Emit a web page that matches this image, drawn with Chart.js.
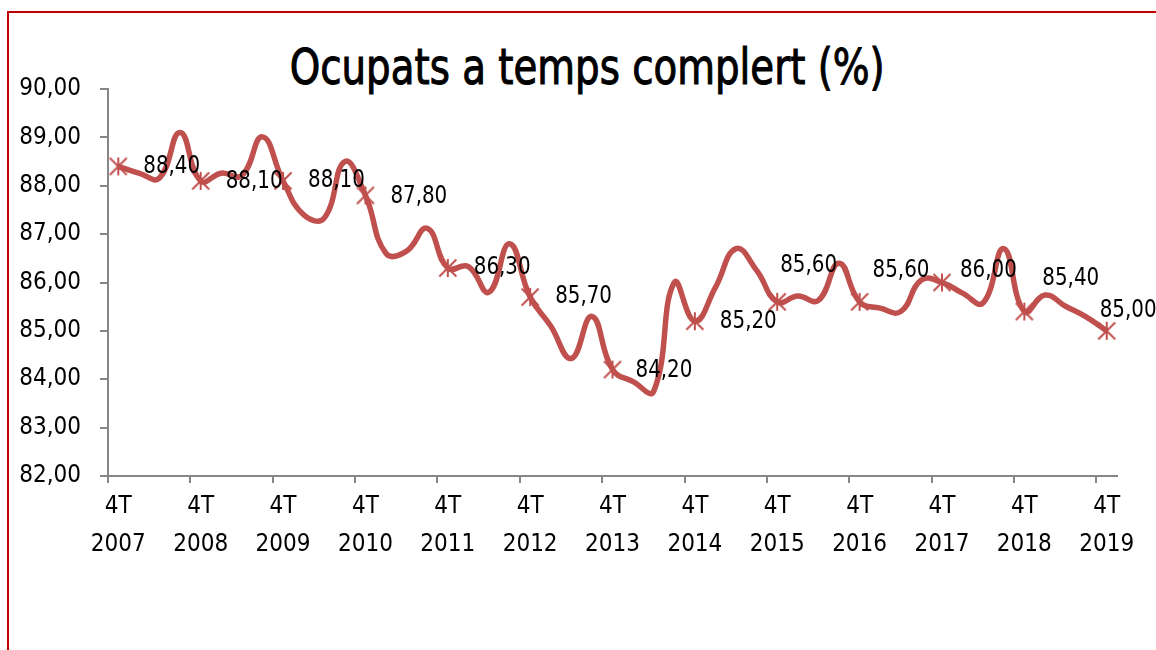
<!DOCTYPE html>
<html>
<head>
<meta charset="utf-8">
<script src="https://cdn.jsdelivr.net/npm/chart.js@4/dist/chart.umd.min.js"></script>
<style>
html,body{margin:0;padding:0;background:#fff;width:1156px;height:650px;overflow:hidden}
#frame{position:absolute;left:7px;top:11px;width:1300px;height:800px;border-left:2px solid #c00000;border-top:2px solid #c00000;box-sizing:border-box}
#title{position:absolute;left:0;width:1175px;top:40px;text-align:center;font-family:'DejaVu Sans Condensed','DejaVu Sans',sans-serif;font-size:50px;line-height:54px;color:#000;white-space:nowrap;font-weight:normal;-webkit-text-stroke:1px #000}
#title span{display:inline-block;transform-origin:50% 50%}
#wrap{position:absolute;left:0;top:0;width:1156px;height:650px}
</style>
</head>
<body>
<div id="frame"></div>
<div id="title"><span id="tt">Ocupats a temps complert (%)</span></div>
<div id="wrap"><canvas id="c" width="1156" height="650"></canvas></div>
<script>
// ---- data ----
const quarters = [
  "4T 2007",
  "1T 2008","2T 2008","3T 2008","4T 2008",
  "1T 2009","2T 2009","3T 2009","4T 2009",
  "1T 2010","2T 2010","3T 2010","4T 2010",
  "1T 2011","2T 2011","3T 2011","4T 2011",
  "1T 2012","2T 2012","3T 2012","4T 2012",
  "1T 2013","2T 2013","3T 2013","4T 2013",
  "1T 2014","2T 2014","3T 2014","4T 2014",
  "1T 2015","2T 2015","3T 2015","4T 2015",
  "1T 2016","2T 2016","3T 2016","4T 2016",
  "1T 2017","2T 2017","3T 2017","4T 2017",
  "1T 2018","2T 2018","3T 2018","4T 2018",
  "1T 2019","2T 2019","3T 2019","4T 2019"
];
const ocupatsTempsComplert = [
  88.40,
  88.26, 88.16, 89.10, 88.10,
  88.26, 88.21, 89.01, 88.10,
  87.40, 87.33, 88.50, 87.80,
  86.60, 86.65, 87.12, 86.30,
  86.33, 85.80, 86.80, 85.70,
  85.10, 84.43, 85.30, 84.20,
  83.95, 83.75, 86.00, 85.20,
  85.90, 86.70, 86.25, 85.60,
  85.72, 85.63, 86.40, 85.60,
  85.47, 85.40, 86.05, 86.00,
  85.78, 85.58, 86.70, 85.40,
  85.74, 85.51, 85.29, 85.00
];
const labelledQuarter = "4T";   // only these quarters get a marker, tick label and value label
const yTickValues = [82, 83, 84, 85, 86, 87, 88, 89, 90];

// ---- styles ----
const RED = '#C0504D';
const AXIS = '#868686';
const FONT = "'DejaVu Sans Condensed','DejaVu Sans',sans-serif";
const TITLE_WIDTH = 595;
// label offsets (dx from marker to text start, dy of text centre) for the labelled points
const labelOffsets = [[25,0],[25,1],[25,0],[25,1],[26,0],[25,0],[23,1],[25,1],[3,-36],[13,-31],[18,-12],[18,-33],[-7,-20]];

const isLabelled = i => quarters[i] && quarters[i].startsWith(labelledQuarter);
const fmt = v => v.toFixed(2).replace('.', ',');

// fit the title to the reference width with a condensed look
(function(){
  const t = document.getElementById('tt');
  const w = t.getBoundingClientRect().width;
  t.style.transform = 'scaleX(' + (TITLE_WIDTH / w) + ')';
})();

// Excel-style "star" marker: X with vertical bar
function makeStar(size, color, lw){
  const c = document.createElement('canvas');
  c.width = size; c.height = size;
  const g = c.getContext('2d');
  g.strokeStyle = color; g.lineWidth = lw;
  const m = 1.5, s = size - 1.5;
  g.beginPath();
  g.moveTo(m, m); g.lineTo(s, s);
  g.moveTo(s, m); g.lineTo(m, s);
  g.moveTo(size/2, m - 0.5); g.lineTo(size/2, s + 0.5);
  g.stroke();
  return c;
}
const starImg = makeStar(20, RED, 2);

const valueLabels = {
  id: 'valueLabels',
  afterDatasetsDraw(chart){
    const ctx = chart.ctx;
    const meta = chart.getDatasetMeta(0);
    ctx.save();
    ctx.font = "24px " + FONT;
    ctx.fillStyle = '#000';
    ctx.textAlign = 'left';
    ctx.textBaseline = 'middle';
    let k = 0;
    meta.data.forEach((pt, i) => {
      if (!isLabelled(i)) return;
      const off = labelOffsets[k++] || [25, 0];
      ctx.save();
      ctx.translate(pt.x + off[0], pt.y + off[1]);
      ctx.scale(0.92, 1);
      ctx.fillText(fmt(ocupatsTempsComplert[i]), 0, 0);
      ctx.restore();
    });
    ctx.restore();
  }
};

new Chart(document.getElementById('c'), {
  type: 'line',
  data: {
    labels: quarters,
    datasets: [{
      data: ocupatsTempsComplert,
      borderColor: RED,
      backgroundColor: RED,
      borderWidth: 5.5,
      tension: 0.45,
      fill: false,
      pointStyle: starImg,
      pointRadius: ctx => isLabelled(ctx.dataIndex) ? 10 : 0,
      pointHoverRadius: 0,
      clip: false
    }]
  },
  options: {
    responsive: false,
    animation: false,
    events: [],
    layout: { padding: { top: 89, right: 39, left: 0, bottom: 0 } },
    plugins: { legend: { display: false }, tooltip: { enabled: false }, title: { display: false } },
    scales: {
      x: {
        type: 'category',
        offset: true,
        afterFit(scale){ scale.height = 174; },
        border: { color: AXIS, width: 2 },
        grid: {
          offset: true,
          drawOnChartArea: false,
          drawTicks: true,
          tickLength: 7,
          lineWidth: 2,
          color: ctx => (ctx.index % 4 === 0 && ctx.index < quarters.length) ? AXIS : 'rgba(0,0,0,0)'
        },
        ticks: {
          autoSkip: false,
          maxRotation: 0,
          minRotation: 0,
          padding: 5,
          color: '#000',
          font: { family: FONT, size: 24, lineHeight: 1.58 },
          callback: (v, i) => isLabelled(i) ? quarters[i].split(' ') : ''
        }
      },
      y: {
        min: 82,
        max: 90,
        afterFit(scale){ scale.width = 108; },
        afterBuildTicks(scale){ scale.ticks = yTickValues.map(v => ({ value: v })); },
        border: { color: AXIS, width: 2 },
        grid: { drawOnChartArea: false, drawTicks: true, tickLength: 8, lineWidth: 2, color: AXIS },
        ticks: {
          padding: 19,
          color: '#000',
          font: { family: FONT, size: 24 },
          callback: v => fmt(v)
        }
      }
    }
  },
  plugins: [valueLabels]
});
</script>
</body>
</html>
